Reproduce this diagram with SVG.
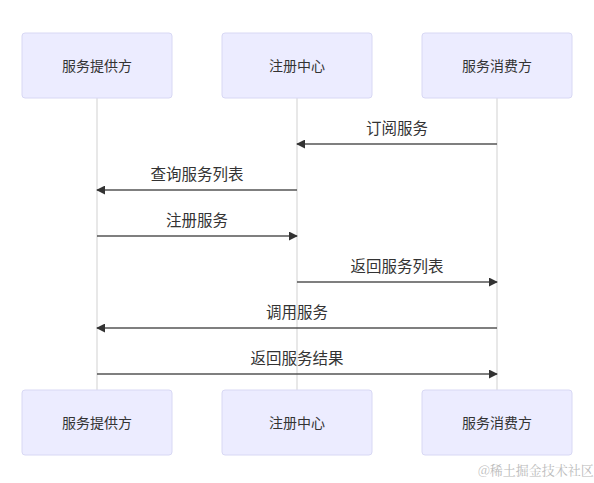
<svg xmlns="http://www.w3.org/2000/svg" width="594" height="483" viewBox="0 0 594 483">
<defs>
<marker id="arr" viewBox="0 0 10 10" refX="9" refY="5" markerWidth="9" markerHeight="9" markerUnits="userSpaceOnUse" orient="auto">
<path d="M0,0 L10,5 L0,10 z" fill="#333"/>
</marker>
</defs>
<style>
.box{fill:#ECECFF;stroke:#d8d8f4;stroke-width:1}
.life{stroke:#e0e0e0;stroke-width:1.5}
.lbl{font-family:"Noto Sans CJK SC","Liberation Sans",sans-serif;font-size:14px;fill:#333;text-anchor:middle}
.msg{stroke:#555;stroke-width:1.6;fill:none;marker-end:url(#arr)}
.mt{font-family:"Noto Sans CJK SC","Liberation Sans",sans-serif;font-size:15.5px;fill:#333;text-anchor:middle}
.wm{font-family:"Noto Serif CJK SC","Noto Sans CJK SC",serif;font-size:13px;fill:#bbb}
</style>
<rect width="594" height="483" fill="#fff"/>
<g id="lifelines">
<line class="life" x1="97" y1="98" x2="97" y2="390"/>
<line class="life" x1="297" y1="98" x2="297" y2="390"/>
<line class="life" x1="497" y1="98" x2="497" y2="390"/>
</g>
<g id="provider">
<rect class="box" x="22" y="33" width="150" height="65" rx="3"/>
<text class="lbl" x="97" y="71">服务提供方</text>
</g>
<g id="registry">
<rect class="box" x="222" y="33" width="150" height="65" rx="3"/>
<text class="lbl" x="297" y="71">注册中心</text>
</g>
<g id="consumer">
<rect class="box" x="422" y="33" width="150" height="65" rx="3"/>
<text class="lbl" x="497" y="71">服务消费方</text>
</g>
<g id="provider-bottom">
<rect class="box" x="22" y="390" width="150" height="65" rx="3"/>
<text class="lbl" x="97" y="428">服务提供方</text>
</g>
<g id="registry-bottom">
<rect class="box" x="222" y="390" width="150" height="65" rx="3"/>
<text class="lbl" x="297" y="428">注册中心</text>
</g>
<g id="consumer-bottom">
<rect class="box" x="422" y="390" width="150" height="65" rx="3"/>
<text class="lbl" x="497" y="428">服务消费方</text>
</g>
<g id="connectors">
<line class="msg" x1="497" y1="144" x2="297" y2="144"/>
<text class="mt" x="397" y="134">订阅服务</text>
<line class="msg" x1="297" y1="190" x2="97" y2="190"/>
<text class="mt" x="197" y="180">查询服务列表</text>
<line class="msg" x1="97" y1="236" x2="297" y2="236"/>
<text class="mt" x="197" y="226">注册服务</text>
<line class="msg" x1="297" y1="282" x2="497" y2="282"/>
<text class="mt" x="397" y="272">返回服务列表</text>
<line class="msg" x1="497" y1="328" x2="97" y2="328"/>
<text class="mt" x="297" y="318">调用服务</text>
<line class="msg" x1="97" y1="374" x2="497" y2="374"/>
<text class="mt" x="297" y="364">返回服务结果</text>
</g>
<text class="wm" x="478" y="475">@稀土掘金技术社区</text>
</svg>
